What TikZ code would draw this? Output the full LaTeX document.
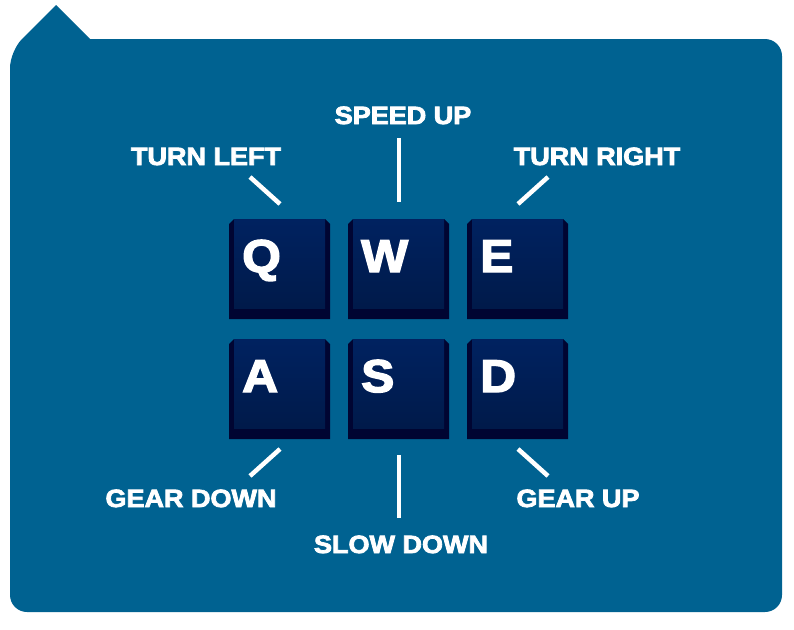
\documentclass[tikz,border=0pt]{standalone}
\usepackage{fontspec}
\setmainfont{Liberation Sans}
\newfontfamily\heavyfont{Liberation Sans}[BoldFeatures={FakeBold=3}]
\definecolor{bgblue}{RGB}{0,98,145}
\definecolor{keyside}{RGB}{0,5,50}
\definecolor{keytop}{RGB}{0,34,96}
\definecolor{keybot}{RGB}{0,26,74}
\tikzset{
  lbl/.style={text=white,font=\heavyfont\bfseries\fontsize{25}{25}\selectfont,anchor=base,inner sep=0pt,xscale=1.08},
  keyletter/.style={text=white,font=\heavyfont\bfseries\fontsize{46}{46}\selectfont,anchor=base west,inner sep=0pt,xscale=1.08},
  tick/.style={white,line width=4.5pt},
}
\newcommand{\mykey}[4]{% name, left x, top y, letter
  \fill[keyside] (#2,#3+5) -- (#2+5,#3) -- (#2+96,#3) -- (#2+101,#3+5) -- (#2+101,#3+100) -- (#2,#3+100) -- cycle;
  \shade[top color=keytop,bottom color=keybot] (#2+5,#3) rectangle (#2+96,#3+89);
  \node[minimum width=101pt,minimum height=100pt,inner sep=0pt,anchor=north west] (#1) at (#2,#3) {};
  \node[keyletter] (#1l) at (#2+13,#3+53) {#4};
}
\begin{document}
\begin{tikzpicture}[x=1pt,y=-1pt]
\useasboundingbox (0,0) rectangle (794,629);
\fill[bgblue] (10,595) [rounded corners=17pt] -- (10,51) [sharp corners] -- (56,5) -- (90,39) [rounded corners=17pt] -- (782,39) -- (782,612) -- (10,612) [sharp corners] -- cycle;
\mykey{q}{229}{219}{Q}
\mykey{w}{348}{219}{W}
\mykey{e}{467}{219}{E}
\mykey{a}{229}{339}{A}
\mykey{s}{348}{339}{S}
\mykey{d}{467}{339}{D}
\node[lbl] (speedup) at (403,124) {SPEED UP};
\node[lbl] (turnleft) at (206,165) {TURN LEFT};
\node[lbl] (turnright) at (597,165) {TURN RIGHT};
\node[lbl] (geardown) at (191,507) {GEAR DOWN};
\node[lbl] (gearup) at (578,507) {GEAR UP};
\node[lbl] (slowdown) at (401,553) {SLOW DOWN};
\coordinate (tl1) at (250,177); \coordinate (tl2) at (280,204);
\coordinate (su1) at (399,138); \coordinate (su2) at (399,202);
\coordinate (tr1) at (548,177); \coordinate (tr2) at (518,204);
\coordinate (gd1) at (280,449); \coordinate (gd2) at (250,476);
\coordinate (sd1) at (399,455); \coordinate (sd2) at (399,518);
\coordinate (gu1) at (518,449); \coordinate (gu2) at (548,476);
\draw[tick] (tl1) -- (tl2);
\draw[tick] (su1) -- (su2);
\draw[tick] (tr1) -- (tr2);
\draw[tick] (gd1) -- (gd2);
\draw[tick] (sd1) -- (sd2);
\draw[tick] (gu1) -- (gu2);
\end{tikzpicture}
\end{document}
